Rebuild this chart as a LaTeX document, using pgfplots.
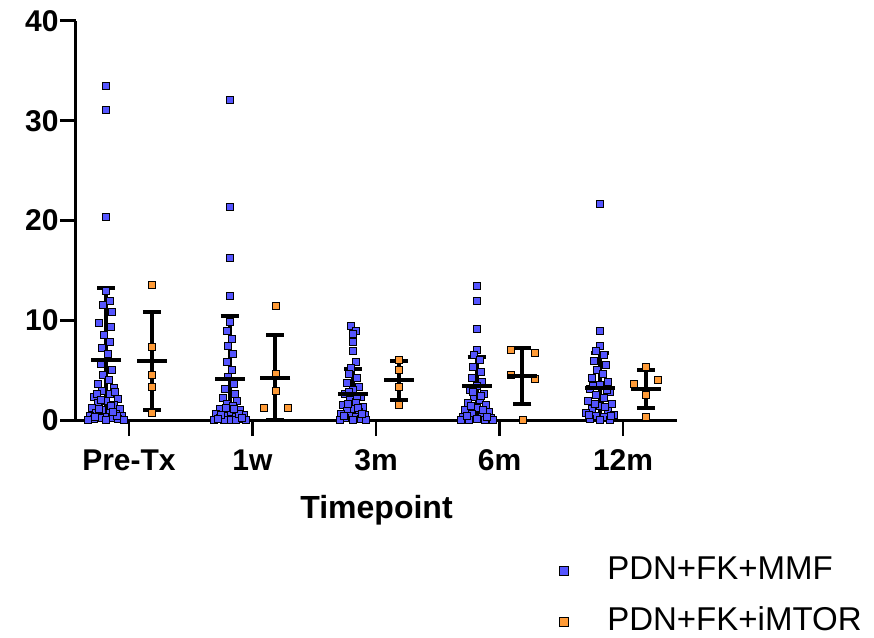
\documentclass[border=0pt]{standalone}
\usepackage{pgfplots}
\pgfplotsset{compat=1.18}
\usepackage{pgfplotstable}
\usepackage{fontspec}
\setmainfont{Liberation Sans}

\definecolor{mmfblue}{RGB}{85,85,255}
\definecolor{mtororange}{RGB}{255,155,55}

% individual values: group index g, horizontal spread dx (in pt), value y
\pgfplotstableread{
g dx y
0 0 33.5
0 0 31.1
0 0 20.4
0 0 13.0
0 4 12.0
0 -3 11.6
0 6 10.9
0 -7 9.8
0 5 9.4
0 -2 8.6
0 4 7.8
0 -4 7.2
0 2 6.6
0 -5 5.6
0 6 5.0
0 -3 4.5
0 3 4.0
0 -8 3.6
0 8 3.2
0 -4 2.9
0 4 2.6
0 -12 2.3
0 12 2.1
0 0 1.9
0 -8 1.7
0 8 1.5
0 -14 1.2
0 14 1.1
0 -4 1.0
0 4 0.9
0 -10 0.7
0 10 0.6
0 -16 0.4
0 16 0.4
0 0 0.3
0 -6 0.2
0 6 0.2
0 -12 0.1
0 12 0.1
0 -18 0
0 18 0
0 0 0
0 -9 2.6
0 9 2.8
0 -5 2.0
0 5 1.4
0 -11 0.3
0 11 0.4
0 -7 1.1
0 7 0.8
1 0 32.1
1 0 21.4
1 0 16.3
1 0 12.5
1 0 9.9
1 -3 9.0
1 2 8.2
1 -2 7.4
1 3 6.6
1 -3 5.8
1 2 5.0
1 -2 4.3
1 4 3.6
1 -5 3.1
1 5 2.6
1 -7 2.2
1 7 1.9
1 -3 1.6
1 3 1.4
1 -10 1.1
1 10 1.0
1 0 0.8
1 -14 0.6
1 14 0.5
1 -6 0.4
1 6 0.3
1 -10 0.2
1 10 0.1
1 0 0
1 -16 0
1 16 0
1 -6 0
1 6 0
1 -9 0.5
1 9 0.6
1 -4 1.2
1 4 1.1
1 -12 0.1
1 12 0.2
2 -2 9.5
2 3 9.0
2 0 8.7
2 0 7.9
2 0 6.9
2 3 5.8
2 -2 5.2
2 -4 4.6
2 4 4.2
2 -6 3.7
2 6 3.3
2 0 3.0
2 -8 2.6
2 8 2.3
2 -3 2.0
2 3 1.8
2 -10 1.5
2 10 1.3
2 0 1.1
2 -6 0.9
2 6 0.8
2 -12 0.6
2 12 0.5
2 -3 0.4
2 3 0.3
2 -8 0.2
2 8 0.1
2 0 0
2 -13 0
2 13 0
2 -5 1.6
2 5 1.2
2 -9 0.4
2 9 0.6
2 -4 2.8
2 4 2.4
3 0 13.5
3 0 12.0
3 0 9.2
3 0 7.0
3 -3 6.5
3 3 6.0
3 -4 5.3
3 4 4.8
3 -5 4.2
3 5 3.8
3 0 3.4
3 -7 3.0
3 7 2.6
3 -3 2.3
3 3 2.0
3 -9 1.7
3 9 1.5
3 0 1.2
3 -12 1.0
3 12 0.8
3 -5 0.6
3 5 0.5
3 -14 0.3
3 14 0.2
3 0 0.1
3 -8 0
3 8 0
3 -16 0
3 16 0
3 -6 1.4
3 6 1.0
3 -10 0.4
3 10 0.3
3 -4 2.8
3 4 2.4
4 0 21.7
4 0 9.0
4 0 7.4
4 -4 6.9
4 4 6.5
4 -6 5.9
4 6 5.5
4 -3 5.0
4 3 4.6
4 -8 4.2
4 8 3.8
4 0 3.5
4 -10 3.1
4 10 2.8
4 -4 2.5
4 4 2.2
4 -12 1.9
4 12 1.6
4 0 1.4
4 -8 1.1
4 8 0.9
4 -14 0.7
4 14 0.5
4 -4 0.4
4 4 0.3
4 -10 0.1
4 10 0
4 0 0
4 -7 3.4
4 7 3.0
4 -5 1.6
4 5 1.3
4 -11 0.5
4 11 0.4
}\mmfdata

\pgfplotstableread{
g dx y
0 0 13.6
0 0 7.3
0 0 4.5
0 0 3.3
0 0 0.7
1 0 11.5
1 0 4.6
1 0 2.9
1 -12 1.27
1 12 1.27
2 0 6.0
2 0 5.0
2 0 3.3
2 0 1.5
3 -12 7.0
3 12 6.7
3 -12 4.5
3 12 4.1
3 0 0
4 0 5.35
4 -12 3.67
4 12 4.0
4 0 2.5
4 0 0.33
}\mtordata

% mean with error bars (upper and lower extent)
\pgfplotstableread{
g mean ep em
0 6.0 7.2 6.0
1 4.1 6.3 4.1
2 2.6 2.5 2.5
3 3.45 2.85 3.45
4 3.25 3.5 3.25
}\mmfstats

\pgfplotstableread{
g mean ep em
0 5.9 4.9 4.9
1 4.25 4.25 4.25
2 4.0 1.95 1.95
3 4.45 2.8 2.8
4 3.15 1.9 1.9
}\mtorstats

\pgfplotsset{
  meansd/.style={only marks, mark=-, mark size=15pt,
    mark options={line width=4pt, black},
    error bars/.cd, y dir=both, y explicit,
    error bar style={line width=4pt, black},
    error mark=|, error mark options={mark size=9pt, line width=4pt, black}},
}

\begin{document}
\begin{tikzpicture}
\path[use as bounding box] (-76pt,-217pt) rectangle (798pt,420pt);
\begin{axis}[
  at={(0pt,0pt)}, anchor=south west,
  scale only axis,
  width=601pt, height=399pt,
  xmin=-0.429, xmax=4.437,
  ymin=0, ymax=40,
  clip=false,
  axis lines=left,
  axis line style={line width=3pt, -},
  xtick pos=bottom, ytick pos=left,
  tick align=outside,
  major tick length=16pt,
  xtick style={black, line width=2.5pt},
  ytick style={black, line width=3pt},
  xtick={0,1,2,3,4},
  xticklabels={Pre-Tx,1w,3m,6m,12m},
  ytick={0,10,20,30,40},
  /pgf/number format/assume math mode=true,
  tick label style={font=\bfseries\fontsize{30}{36}\selectfont},
  yticklabel style={xshift=2pt},
  xticklabel style={yshift=-10pt},
  xlabel={Timepoint},
  xlabel style={font=\bfseries\fontsize{32}{38}\selectfont, yshift=-18pt},
  legend style={draw=none, fill=none,
    at={(0.798,-0.333)}, anchor=north west,
    font=\fontsize{33}{40}\selectfont,
    nodes={inner sep=0pt, text height=24pt, text depth=8pt, anchor=base west},
    row sep=19pt},
  legend cell align=left,
  legend image code/.code={%
    \path (-4.5pt,3.5pt) rectangle (44pt,12.5pt);
    \draw[#1, mark size=4.5pt] plot coordinates {(0pt,8pt)};},
]
\addplot[only marks, mark=square*, mark size=3.5pt, draw=none,
  mark options={draw=none, fill=mmfblue}]
  table[x expr={\thisrow{g}-0.186+\thisrow{dx}/123.5}, y=y] {\mmfdata};
\addlegendentry{PDN+FK+MMF}
\addplot[only marks, mark=square*, mark size=3.5pt, draw=none,
  mark options={draw=none, fill=mtororange}]
  table[x expr={\thisrow{g}+0.186+\thisrow{dx}/123.5}, y=y] {\mtordata};
\addlegendentry{PDN+FK+iMTOR}

\addplot[meansd]
  table[x expr={\thisrow{g}-0.186}, y=mean, y error plus=ep, y error minus=em] {\mmfstats};
\addplot[meansd]
  table[x expr={\thisrow{g}+0.186}, y=mean, y error plus=ep, y error minus=em] {\mtorstats};
\end{axis}
\end{tikzpicture}
\end{document}
